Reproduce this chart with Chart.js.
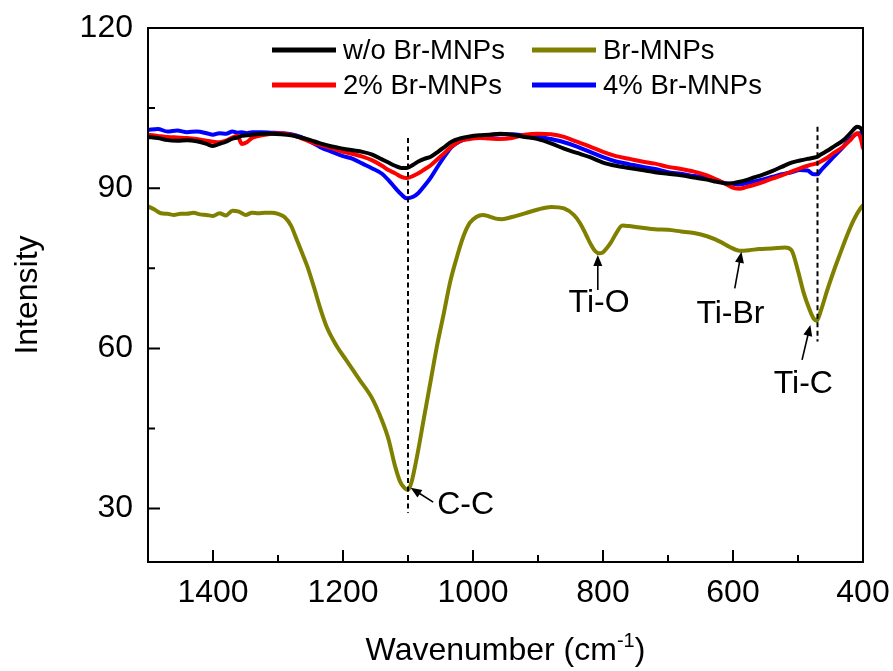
<!DOCTYPE html>
<html>
<head>
<meta charset="utf-8">
<script src="https://cdn.jsdelivr.net/npm/chart.js@4.4.1/dist/chart.umd.min.js"></script>
<style>
  html, body { margin: 0; padding: 0; background: #ffffff; }
  canvas { display: block; }
</style>
</head>
<body>
<canvas id="ftir" width="893" height="671"></canvas>
<script>
// ---- axis ticks ----
const xTickValues = [1400, 1200, 1000, 800, 600, 400];
const xMinorValues = [1300, 1100, 900, 700, 500];
const yTickValues = [30, 60, 90, 120];
const yMinorValues = [45, 75, 105];

// ---- series names ----
const seriesNames = ['w/o Br-MNPs', 'Br-MNPs', '2% Br-MNPs', '4% Br-MNPs'];

// ---- shared wavenumber grid for the three composite samples (cm-1) ----
const wnComposite = [
  1500, 1485, 1470, 1455, 1440, 1425, 1410, 1400, 1390, 1380,
  1370, 1362, 1356, 1348, 1340, 1325, 1310, 1295, 1280, 1265,
  1250, 1235, 1217, 1200, 1185, 1170, 1155, 1140, 1130, 1120,
  1110, 1102, 1092, 1084, 1075, 1065, 1053, 1043, 1033, 1020,
  1005, 990, 975, 958, 940, 920, 900, 880, 860, 840,
  820, 800, 780, 760, 740, 720, 700, 680, 660, 640,
  625, 610, 598, 590, 580, 568, 555, 540, 525, 510,
  497, 485, 476, 470, 465, 455, 445, 430, 418, 409,
  404, 400
];

// w/o Br-MNPs
const intPlain = [
  99.6, 99.4, 99.0, 98.9, 99.0, 98.8, 98.3, 97.9, 98.3, 98.7,
  99.3, 99.5, 99.8, 99.9, 100.0, 100.2, 100.2, 100.1, 99.9, 99.5,
  99.0, 98.4, 97.8, 97.4, 97.1, 96.8, 96.3, 95.4, 94.8, 94.2,
  93.8, 93.8, 94.4, 95.0, 95.5, 95.9, 96.9, 97.8, 98.7, 99.3,
  99.7, 99.9, 100.0, 100.2, 100.0, 99.6, 99.2, 98.4, 97.4, 96.6,
  95.8, 94.8, 94.2, 93.8, 93.4, 93.0, 92.7, 92.4, 92.0, 91.6,
  91.2, 90.9, 91.0, 91.2, 91.5, 92.0, 92.5, 93.2, 94.0, 94.8,
  95.2, 95.5, 95.7, 95.9, 96.3, 97.0, 97.8, 99.0, 100.5, 101.5,
  101.3, 100.5
];

// 2% Br-MNPs
const int2pct = [
  100.0, 99.8, 99.6, 99.5, 99.4, 99.2, 98.9, 98.7, 98.6, 98.9,
  99.5, 99.8, 98.3, 98.6, 99.4, 99.9, 100.2, 100.3, 100.0, 99.4,
  98.7, 98.1, 97.5, 96.8, 96.4, 95.9, 95.2, 94.2, 93.4, 92.8,
  92.1, 91.9, 92.3, 92.8, 93.5, 94.3, 95.6, 96.7, 97.8, 98.8,
  99.2, 99.4, 99.3, 99.2, 99.4, 100.0, 100.2, 100.1, 99.6, 98.7,
  97.8, 96.8, 96.0, 95.5, 95.0, 94.6, 94.0, 93.6, 93.1, 92.4,
  91.6, 90.7, 90.0, 89.9, 90.2, 90.6, 91.1, 91.8, 92.4, 93.1,
  93.7, 94.2, 94.5, 94.7, 95.0, 95.7, 96.6, 97.8, 99.2, 100.3,
  99.5, 97.5
];

// 4% Br-MNPs
const int4pct = [
  100.9, 101.1, 100.6, 100.8, 100.5, 100.6, 100.3, 100.0, 100.3, 100.2,
  100.6, 100.4, 100.5, 100.3, 100.5, 100.5, 100.4, 100.3, 100.1, 99.6,
  98.7, 97.7, 96.8, 96.0, 95.5, 94.6, 93.7, 92.7, 91.5, 90.1,
  88.8, 88.1, 88.4, 89.1, 90.4, 92.0, 94.3, 96.1, 97.7, 98.8,
  99.5, 99.8, 99.9, 100.1, 100.1, 99.9, 99.7, 99.2, 98.6, 97.8,
  96.8, 95.8, 95.0, 94.5, 94.0, 93.6, 93.0, 92.7, 92.3, 92.0,
  91.5, 90.9, 90.8, 90.7, 90.9, 91.2, 91.6, 92.1, 92.6, 93.0,
  93.4, 93.3, 92.6, 92.6, 93.3, 94.6, 95.9, 97.8, 99.5, 100.2,
  100.3, 99.2
];

// Br-MNPs (own grid)
const wnBr = [
  1500, 1490, 1480, 1470, 1460, 1450, 1440, 1430, 1420, 1410,
  1400, 1390, 1380, 1370, 1360, 1350, 1340, 1330, 1320, 1310,
  1300, 1290, 1280, 1270, 1262, 1255, 1245, 1235, 1225, 1210,
  1195, 1175, 1155, 1140, 1130, 1120, 1112, 1105, 1100, 1095,
  1085, 1076, 1065, 1055, 1045, 1035, 1025, 1015, 1005, 995,
  985, 975, 965, 955, 940, 920, 900, 880, 860, 845,
  835, 825, 818, 812, 806, 800, 794, 788, 780, 770,
  760, 740, 720, 700, 680, 660, 640, 620, 605, 590,
  575, 560, 540, 520, 510, 500, 491, 483, 476, 471,
  465, 455, 445, 435, 425, 414, 404, 400
];
const intBr = [
  86.6, 86.0, 85.3, 85.2, 85.0, 85.2, 85.2, 85.4, 85.1, 85.0,
  84.8, 85.3, 84.9, 85.8, 85.6, 85.0, 85.4, 85.3, 85.4, 85.4,
  85.2, 84.6, 83.0, 80.0, 77.6, 75.4, 71.6, 67.5, 64.0, 60.5,
  57.8, 54.2, 50.6, 46.5, 43.0, 38.0, 35.0, 33.8, 33.5, 34.8,
  40.5, 46.6, 54.0, 60.7, 66.5, 72.5, 77.0, 80.9, 83.5, 84.6,
  85.0, 84.7, 84.3, 84.2, 84.6, 85.3, 86.0, 86.5, 86.2, 85.0,
  83.4, 81.0, 79.3, 78.2, 77.8, 78.0, 78.8, 79.8, 81.5, 83.0,
  82.9, 82.6, 82.3, 82.2, 81.9, 81.6, 81.0, 80.0, 79.0, 78.3,
  78.4, 78.6, 78.7, 78.9, 78.4, 74.5, 70.3, 67.5, 65.6, 65.2,
  67.0, 70.9, 74.5, 77.8, 81.0, 84.1, 86.2, 86.8
];

// ---- band assignments (arrow tip on the Br-MNPs curve) ----
const bandNames = ['C-C', 'Ti-O', 'Ti-Br', 'Ti-C'];
const bandWavenumbers = [1096, 808, 587, 481];
const bandIntensities = [33.9, 77.5, 78.1, 64.4];

// ---- dashed reference lines ----
const refWavenumbers = [1100, 470];
const refTop = [99.4, 101.5];
const refBottom = [29.2, 61.3];

const FONT = "'Liberation Sans', Arial, Helvetica, sans-serif";
const toPoints = (xs, ys) => xs.map((x, i) => ({ x: x, y: ys[i] }));

// arrow from (x0,y0) to tip (x1,y1)
function drawArrow(ctx, x0, y0, x1, y1) {
  const a = Math.atan2(y1 - y0, x1 - x0);
  const hl = 11, hw = 4.5;
  const c = Math.cos(a), s = Math.sin(a);
  ctx.beginPath();
  ctx.moveTo(x0, y0);
  ctx.lineTo(x1 - hl * 0.8 * c, y1 - hl * 0.8 * s);
  ctx.stroke();
  ctx.beginPath();
  ctx.moveTo(x1, y1);
  ctx.lineTo(x1 - hl * c + hw * s, y1 - hl * s - hw * c);
  ctx.lineTo(x1 - hl * c - hw * s, y1 - hl * s + hw * c);
  ctx.closePath();
  ctx.fill();
}

const decorations = {
  id: 'decorations',
  afterDatasetsDraw(chart) {
    const ctx = chart.ctx;
    const xs = chart.scales.x, ys = chart.scales.y;
    const area = chart.chartArea;
    ctx.save();

    // dashed reference lines
    ctx.strokeStyle = '#000';
    ctx.lineWidth = 2;
    ctx.setLineDash([5, 3.5]);
    refWavenumbers.forEach((w, i) => {
      const px = xs.getPixelForValue(w);
      ctx.beginPath();
      ctx.moveTo(px, ys.getPixelForValue(refTop[i]));
      ctx.lineTo(px, ys.getPixelForValue(refBottom[i]));
      ctx.stroke();
    });
    ctx.setLineDash([]);

    // band labels with arrows
    const offs = [
      { tail: [22.6, 14.4], text: [55, 17] },
      { tail: [0, 35], text: [1.3, 48] },
      { tail: [-6.7, 36.6], text: [-11, 62.3] },
      { tail: [-8.3, 35], text: [-7, 59] }
    ];
    ctx.fillStyle = '#000';
    ctx.lineWidth = 1.6;
    ctx.font = '32px ' + FONT;
    ctx.textAlign = 'center';
    ctx.textBaseline = 'middle';
    bandNames.forEach((name, i) => {
      const tx = xs.getPixelForValue(bandWavenumbers[i]);
      const ty = ys.getPixelForValue(bandIntensities[i]);
      const o = offs[i];
      drawArrow(ctx, tx + o.tail[0], ty + o.tail[1], tx, ty);
      ctx.fillText(name, tx + o.text[0], ty + o.text[1]);
    });

    // frame
    ctx.lineWidth = 2;
    ctx.strokeRect(area.left, area.top, area.right - area.left, area.bottom - area.top);

    // inward ticks
    ctx.beginPath();
    xTickValues.forEach(v => { const p = xs.getPixelForValue(v); ctx.moveTo(p, area.bottom); ctx.lineTo(p, area.bottom - 12); });
    xMinorValues.forEach(v => { const p = xs.getPixelForValue(v); ctx.moveTo(p, area.bottom); ctx.lineTo(p, area.bottom - 7); });
    yTickValues.forEach(v => { const p = ys.getPixelForValue(v); ctx.moveTo(area.left, p); ctx.lineTo(area.left + 12, p); });
    yMinorValues.forEach(v => { const p = ys.getPixelForValue(v); ctx.moveTo(area.left, p); ctx.lineTo(area.left + 7, p); });
    ctx.stroke();

    // legend (two columns, two rows)
    const slots = [[272, 50], [532, 50], [272, 85], [532, 85]];
    ctx.font = '27.5px ' + FONT;
    ctx.textAlign = 'left';
    ctx.textBaseline = 'middle';
    chart.data.datasets.forEach((ds, i) => {
      const [lx, ly] = slots[i];
      ctx.strokeStyle = ds.borderColor;
      ctx.lineWidth = 5;
      ctx.beginPath();
      ctx.moveTo(lx, ly);
      ctx.lineTo(lx + 64, ly);
      ctx.stroke();
      ctx.fillStyle = '#000';
      ctx.fillText(ds.label, lx + 71, ly + 1);
    });

    // x-axis title with superscript
    const main = 'Wavenumber (cm';
    const sup = '-1';
    const close = ')';
    ctx.font = '32px ' + FONT;
    const wMain = ctx.measureText(main).width;
    const wClose = ctx.measureText(close).width;
    ctx.font = '20px ' + FONT;
    const wSup = ctx.measureText(sup).width;
    const total = wMain + wSup + wClose;
    let x0 = (area.left + area.right) / 2 - total / 2;
    const base = 660;
    ctx.textBaseline = 'alphabetic';
    ctx.fillStyle = '#000';
    ctx.font = '32px ' + FONT;
    ctx.fillText(main, x0, base);
    ctx.font = '20px ' + FONT;
    ctx.fillText(sup, x0 + wMain, base - 13);
    ctx.font = '32px ' + FONT;
    ctx.fillText(close, x0 + wMain + wSup, base);

    ctx.restore();
  }
};

new Chart(document.getElementById('ftir'), {
  type: 'line',
  data: {
    datasets: [
      { label: seriesNames[0], data: toPoints(wnComposite, intPlain), borderColor: '#000000' },
      { label: seriesNames[1], data: toPoints(wnBr, intBr), borderColor: '#808000' },
      { label: seriesNames[2], data: toPoints(wnComposite, int2pct), borderColor: '#ff0000' },
      { label: seriesNames[3], data: toPoints(wnComposite, int4pct), borderColor: '#0000ff' }
    ]
  },
  options: {
    responsive: false,
    animation: false,
    devicePixelRatio: 1,
    layout: { padding: { left: 0, right: 30, top: 28, bottom: 0 } },
    elements: {
      point: { radius: 0 },
      line: { borderWidth: 4, cubicInterpolationMode: 'monotone', borderCapStyle: 'round', borderJoinStyle: 'round', fill: false }
    },
    plugins: { legend: { display: false }, tooltip: { enabled: false } },
    scales: {
      x: {
        type: 'linear', min: 400, max: 1500, reverse: true,
        afterFit: s => { s.height = 109; s.paddingLeft = 0; s.paddingRight = 0; },
        afterBuildTicks: s => { s.ticks = xTickValues.map(v => ({ value: v })); },
        grid: { display: false, drawTicks: false },
        border: { display: false },
        ticks: {
          font: { family: FONT, size: 32 }, color: '#000', padding: 12, maxRotation: 0, autoSkip: false,
          callback: v => String(v)
        }
      },
      y: {
        type: 'linear', min: 20, max: 120,
        afterFit: s => { s.width = 148; s.paddingTop = 0; s.paddingBottom = 0; },
        afterBuildTicks: s => { s.ticks = yTickValues.map(v => ({ value: v })); },
        grid: { display: false, drawTicks: false },
        border: { display: false },
        ticks: { font: { family: FONT, size: 32 }, color: '#000', padding: 15, autoSkip: false, callback: v => String(v) },
        title: { display: true, text: 'Intensity', color: '#000', font: { family: FONT, size: 32 }, padding: { top: 9, bottom: 0 } }
      }
    }
  },
  plugins: [decorations]
});
</script>
</body>
</html>
